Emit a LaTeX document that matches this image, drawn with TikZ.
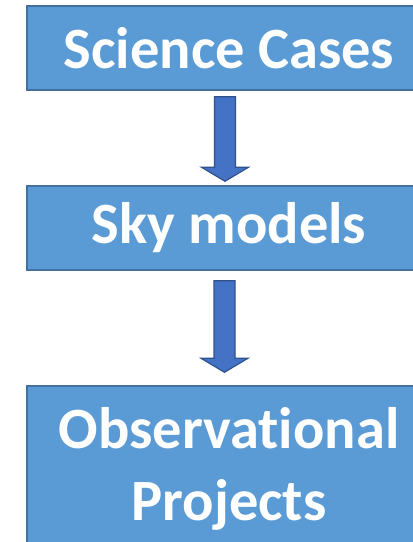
\documentclass[tikz,border=0pt]{standalone}
\usepackage{fontspec}
\setmainfont{Carlito}[Ligatures=NoCommon]
\usetikzlibrary{positioning,calc}
\definecolor{boxblue}{HTML}{5B9BD5}
\definecolor{boxedge}{HTML}{41719C}
\definecolor{arrowblue}{HTML}{4472C4}
\definecolor{arrowedge}{HTML}{2F528F}
\tikzstyle{stage}=[draw=boxedge,line width=1.5pt,fill=boxblue,text=white,inner sep=0pt,
                   font=\bfseries\fontsize{58.5}{72}\selectfont,minimum width=404pt,align=center]
\tikzstyle{block arrow}=[draw=arrowedge,line width=1.2pt,fill=arrowblue,line join=miter]
\def\shaft{10.5}
\def\headw{23.5}
\def\headh{14}
\def\blockarrow#1#2{ % fat arrow from coordinate #1 down to coordinate #2
  \draw[block arrow]
    ($(#1)+(-\shaft,0)$) -- ($(#2)+(-\shaft,-\headh)$) -- ($(#2)+(-\headw,-\headh)$)
    -- (#2) -- ($(#2)+(\headw,-\headh)$) -- ($(#2)+(\shaft,-\headh)$)
    -- ($(#1)+(\shaft,0)$) -- cycle;
}

\begin{document}
\begin{tikzpicture}[x=1pt,y=-1pt]
  \useasboundingbox (0,0) rectangle (413,542);

  % STAGES
  \node[stage,minimum height=84pt]  (science) at (229,48)  {Science Cases};
  \node[stage,minimum height=84pt]  (sky)     at (229,228) {Sky models};
  \node[stage,minimum height=166pt] (obs)     at (229,469) {Observational\\Projects};

  % ARROW ENDS
  \coordinate (a1s) at ($(science.south)+(-4,6)$);
  \coordinate (a1e) at ($(sky.north)+(-4,-4)$);
  \coordinate (a2s) at ($(sky.south)+(-4.5,10)$);
  \coordinate (a2e) at ($(obs.north)+(-4.5,-13)$);

  % ARROWS
  \blockarrow{a1s}{a1e}
  \blockarrow{a2s}{a2e}
\end{tikzpicture}
\end{document}
